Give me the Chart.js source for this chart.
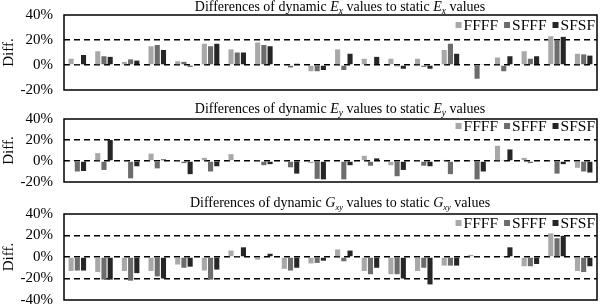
<!DOCTYPE html>
<html>
<head>
<meta charset="utf-8">
<script src="https://cdn.jsdelivr.net/npm/chart.js@4.4.0/dist/chart.umd.min.js"></script>
<style>
  html, body { margin: 0; padding: 0; background: #fff; }
  #wrap { position: relative; width: 600px; height: 307px; overflow: hidden; }
  .panel { position: absolute; left: 0; width: 600px; }
</style>
</head>
<body>
<div id="wrap">
  <div class="panel" style="top:-5px;height:115px"><canvas id="exChart"></canvas></div>
  <div class="panel" style="top:99px;height:103px"><canvas id="eyChart"></canvas></div>
  <div class="panel" style="top:194px;height:126px"><canvas id="gxyChart"></canvas></div>
</div>
<script>
// Define the data
var categories = ['1','2','3','4','5','6','7','8','9','10','11','12','13','14','15','16','17','18','19','20'];
var seriesNames = ['FFFF', 'SFFF', 'SFSF'];

var exFFFF = [5, 11, 2.5, 15, 3, 17, 12.5, 18, 0.5, -5, 12.5, 5, 5, 5, 12, 0.5, 6, 11, 23, 9];
var exSFFF = [0.3, 7, 4.5, 16, 2.5, 15, 10, 16, -2, -5, -4, 0.5, -1, -1.5, 17, -11, -5, 5, 20, 8.5];
var exSFSF = [8, 6.5, 3.5, 12, -1.3, 17, 10, 15, 1, -4, 9, 6.5, -3, -3, 9, 0.5, 7, 7, 22.5, 7.5];

var eyFFFF = [0.5, 7.5, 0.5, 7, 1, 3, 6.5, 1, 0.5, -2, -1, 5, -4, 0.5, 1, 0.5, 14.5, 3, 0.5, -6.5];
var eySFFF = [-10, -8.5, -16.5, -7, -2, -10, 0, -4, -6, -17, -17.5, -4.5, -14.5, -4.5, -12.5, -17.5, 1, -2, -12, -10];
var eySFSF = [-9.5, 20, -5, 1.5, -12.5, -5, 0, -3, -12, -17.5, -4, 2.5, -8.5, -5, -1, -10, 11, 0.5, -3, -11];

var gxyFFFF = [-13, -14, -13, -13, -7, -12.6, 6, -2.5, -11, -6, 7, -13, -16, -13, -8, 2, -0.5, -8.6, 22, -13];
var gxySFFF = [-12.6, -21, -22, -18, -10, -21, 0.3, -0.5, -12.6, -5.5, -4, -16, -16, -10, -8, 0.5, 0.5, -8.6, 17.5, -14];
var gxySFSF = [-12.6, -21, -15, -20, -9, -11.7, 9, 3, -10, -3.4, 6, -10, -20, -25.5, -8, 0, 9, -6.5, 19.7, -8.6];
// End Defining data

var serif = '"Liberation Serif", "Times New Roman", serif';
var barColors = ['#a8a8a8', '#6c6c6c', '#262626'];

// title with italic symbol + subscript, drawn on the canvas
var titlePlugin = {
  id: 'panelTitle',
  afterDraw: function (chart, args, opts) {
    var c = chart.ctx;
    var parts = opts.parts;
    var total = 0;
    parts.forEach(function (p) {
      c.font = (p.it ? 'italic ' : '') + p.size + 'px ' + serif;
      p.w = c.measureText(p.t).width;
      total += p.w;
    });
    var x = opts.cx - total / 2;
    c.save();
    c.fillStyle = '#000';
    c.textBaseline = 'alphabetic';
    parts.forEach(function (p) {
      c.font = (p.it ? 'italic ' : '') + p.size + 'px ' + serif;
      c.fillText(p.t, x, opts.y + (p.sub ? 3 : 0));
      x += p.w;
    });
    c.restore();
  }
};

// plot frame + legend inside the top-right corner
var framePlugin = {
  id: 'frameLegend',
  afterDatasetsDraw: function (chart, args, opts) {
    var a = chart.chartArea, c = chart.ctx;
    c.save();
    c.strokeStyle = '#000';
    c.lineWidth = 1.5;
    c.strokeRect(a.left, a.top, a.right - a.left, a.bottom - a.top);
    // legend
    c.font = '15.5px ' + serif;
    c.textBaseline = 'middle';
    var x = a.right - 2;
    var y = a.top + opts.dy;
    for (var i = chart.data.datasets.length - 1; i >= 0; i--) {
      var ds = chart.data.datasets[i];
      var w = c.measureText(ds.label).width;
      x -= w;
      c.fillStyle = '#000';
      c.fillText(ds.label, x, y + 1);
      x -= 8;
      c.fillStyle = ds.backgroundColor;
      c.fillRect(x, y - 3, 6, 6);
      x -= 6;
    }
    c.restore();
  }
};

function subTitle(sym, sub, subSize) {
  return [
    {t: 'Differences of dynamic ', size: 14},
    {t: sym, size: 14, it: true},
    {t: sub, size: subSize, it: true, sub: true},
    {t: ' values to static ', size: 14},
    {t: sym, size: 14, it: true},
    {t: sub, size: subSize, it: true, sub: true},
    {t: ' values', size: 14}
  ];
}

function makeChart(id, values, yMin, dashAt, titleParts, titleY, legendDy) {
  var ctx = document.getElementById(id).getContext('2d');
  return new Chart(ctx, {
    type: 'bar',
    data: {
      labels: categories,
      datasets: seriesNames.map(function (name, i) {
        return {
          label: name,
          data: values[i],
          backgroundColor: barColors[i],
          borderWidth: 0,
          categoryPercentage: 0.7,
          barPercentage: 0.82
        };
      })
    },
    options: {
      responsive: true,
      maintainAspectRatio: false,
      animation: false,
      layout: { padding: { top: 20, bottom: 20, right: 3, left: 0 } },
      plugins: {
        legend: { display: false },
        tooltip: { enabled: false },
        panelTitle: { parts: titleParts, cx: 340, y: titleY },
        frameLegend: { dy: legendDy }
      },
      scales: {
        x: { display: false },
        y: {
          min: yMin,
          max: 40,
          afterFit: function (scale) { scale.width = 64; },
          ticks: {
            stepSize: 20,
            padding: 11,
            color: '#000',
            font: { family: serif, size: 15 },
            callback: function (v) { return v + '%'; }
          },
          grid: {
            drawTicks: false,
            lineWidth: 1.5,
            color: function (c) {
              return dashAt.indexOf(c.tick && c.tick.value) >= 0 ? '#000' : 'rgba(0,0,0,0)';
            }
          },
          border: { display: false, dash: [6, 4] },
          title: {
            display: true,
            text: 'Diff.',
            color: '#000',
            font: { family: serif, size: 15 },
            padding: { top: 0, bottom: 2 }
          }
        }
      }
    },
    plugins: [titlePlugin, framePlugin]
  });
}

makeChart('exChart', [exFFFF, exSFFF, exSFSF], -20, [20, 0], subTitle('E', 'x', 9.5), 16, 10);
makeChart('eyChart', [eyFFFF, eySFFF, eySFSF], -20, [20, 0], subTitle('E', 'y', 9.5), 14, 7);
makeChart('gxyChart', [gxyFFFF, gxySFFF, gxySFSF], -40, [20, 0, -20], subTitle('G', 'xy', 8.5), 13, 9);
</script>
</body>
</html>
